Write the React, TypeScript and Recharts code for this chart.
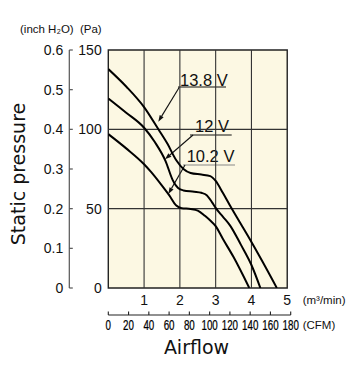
import React from 'react';
import { LineChart, Line, XAxis, YAxis, ReferenceArea, ReferenceLine, Customized } from 'recharts';

// ---- data ----
const m3Ticks = [1, 2, 3, 4, 5];
const cfmTicks = [0, 20, 40, 60, 80, 100, 120, 140, 160, 180];
const paTicks = [0, 50, 100, 150];
const inchTicks = [0, 0.1, 0.2, 0.3, 0.4, 0.5, 0.6];
const gridX = [1, 2, 3, 4];
const gridY = [50, 100];

const flow138 = [0, 0.5, 1.0, 1.4, 1.65, 1.9, 2.1, 2.3, 2.6, 2.85, 3.0, 3.2, 3.4, 3.7, 4.0, 4.3, 4.71];
const pres138 = [138, 127, 114, 100, 91, 80.5, 75, 72.5, 71.5, 70.5, 67.5, 60, 52, 40.5, 29, 17, 0];

const flow120 = [0, 0.5, 1.0, 1.3, 1.6, 1.8, 1.95, 2.1, 2.4, 2.6, 2.75, 2.9, 3.0, 3.2, 3.4, 3.7, 4.0, 4.25];
const pres120 = [119.5, 110.5, 101, 92, 80, 68, 63, 61.5, 60.7, 60, 58.5, 54, 50.5, 45, 39.5, 27.5, 14.5, 0];

const flow102 = [0, 0.5, 1.0, 1.2, 1.5, 1.7, 1.9, 2.05, 2.3, 2.5, 2.7, 2.85, 3.0, 3.2, 3.5, 3.94];
const pres102 = [97, 88, 78, 73, 64.5, 58.5, 52, 50.3, 49.8, 48.8, 45.5, 42.5, 39, 31, 19.5, 0];

const CFM_PER_M3 = 35.3147;
const CFM_MAX = 180;
const M3_MAX = CFM_MAX / CFM_PER_M3;

const toSeries = (xs: number[], ys: number[]) => xs.map((x, i) => ({ x, p: ys[i] }));
const s138 = toSeries(flow138, pres138);
const s120 = toSeries(flow120, pres120);
const s102 = toSeries(flow102, pres102);

// axis ids (the one nearest the plot sorts first)
const X_M3 = 'a_m3';
const X_CFM = 'b_cfm';
const Y_PA = 'a_pa';
const Y_INCH = 'b_inch';

// ---- layout ----
const W = 352;
const H = 362;
const MARGIN = { top: 42, right: 69.3, bottom: 25, left: 31.3 };
const BG = '#FCF8E3';
const FONT = 'Liberation Sans, Arial, sans-serif';

const InchTick = (props: any) => {
  const { x, y, payload } = props;
  return (
    <g>
      <line x1={x} y1={y} x2={x + 3.5} y2={y} stroke="#555" strokeWidth={1.2} />
      <text x={x - 6} y={y} dy="0.36em" textAnchor="end" fontSize={14} fill="#111" fontFamily={FONT}>
        {String(payload.value)}
      </text>
    </g>
  );
};

const CfmTick = (props: any) => {
  const { x, y, payload } = props;
  return (
    <g>
      <line x1={x} y1={y} x2={x} y2={y - 3.5} stroke="#222" strokeWidth={1.1} />
      <text
        transform={`translate(${x},${y + 15}) scale(0.7,1)`}
        textAnchor="middle"
        fontSize={14}
        fill="#000"
        stroke="#000"
        strokeWidth={0.25}
        fontFamily={FONT}
      >
        {String(payload.value)}
      </text>
    </g>
  );
};

const Arrow = ({ x1, y1, x2, y2, stroke = '#111' }: any) => {
  const dx = x2 - x1;
  const dy = y2 - y1;
  const len = Math.sqrt(dx * dx + dy * dy);
  const ux = dx / len;
  const uy = dy / len;
  const L = 6.5;
  const hw = 2.3;
  const bx = x2 - ux * L;
  const by = y2 - uy * L;
  const pts = `${x2},${y2} ${bx - uy * hw},${by + ux * hw} ${bx + uy * hw},${by - ux * hw}`;
  return (
    <g>
      <line x1={x1} y1={y1} x2={bx} y2={by} stroke={stroke} strokeWidth={1.1} />
      <polygon points={pts} fill={stroke} />
    </g>
  );
};

const VoltLabels = () => (
  <g fontFamily={FONT}>
    {/* 13.8 V */}
    <rect x={171} y={63} width={49} height={15} fill={BG} />
    <text x={172} y={77.5} fontSize={16.5} fill="#111">13.8 V</text>
    <line x1={170} y1={79} x2={218} y2={79} stroke="#111" strokeWidth={1.1} />
    <Arrow x1={171.3} y1={79.3} x2={150.3} y2={113.7} />
    {/* 12 V */}
    <rect x={183} y={111} width={41} height={15.5} fill={BG} />
    <text x={187} y={123.7} fontSize={16.5} fill="#111">12 V</text>
    <line x1={182} y1={127} x2={223.7} y2={127} stroke="#111" strokeWidth={1.1} />
    <Arrow x1={185} y1={127} x2={157} y2={151.3} />
    {/* 10.2 V */}
    <rect x={176} y={140.5} width={51} height={16} fill={BG} />
    <text x={178.7} y={153.7} fontSize={16.5} fill="#111">10.2 V</text>
    <line x1={175} y1={157} x2={227} y2={157} stroke="#888" strokeWidth={1.1} />
    <Arrow x1={177} y1={157} x2={160.3} y2={186} />
  </g>
);

const Titles = () => (
  <g fontFamily={FONT}>
    <text x={12} y={25} fontSize={11.5} fill="#111">(inch H₂O)</text>
    <text x={93.7} y={25} fontSize={11.5} fill="#111" textAnchor="end">(Pa)</text>
    <text
      x={17}
      y={166}
      transform="rotate(-90 17 166)"
      textAnchor="middle"
      fontSize={19}
      fill="#111"
      fontFamily="DejaVu Sans, sans-serif"
    >
      Static pressure
    </text>
    <text x={294.7} y={296} fontSize={11.5} fill="#111">(m³/min)</text>
    <text x={294.7} y={321} fontSize={11.5} fill="#111">(CFM)</text>
    <text x={188.5} y={346} textAnchor="middle" fontSize={19} fill="#111" fontFamily="DejaVu Sans, sans-serif">
      Airflow
    </text>
  </g>
);

export default function App() {
  return (
    <LineChart width={W} height={H} margin={MARGIN} style={{ fontFamily: FONT }}>
      <XAxis
        xAxisId={X_M3}
        type="number"
        dataKey="x"
        domain={[0, M3_MAX]}
        allowDataOverflow
        ticks={m3Ticks}
        interval={0}
        height={27}
        axisLine={false}
        tickLine={false}
        tickSize={0}
        tickMargin={7}
        tick={{ fontSize: 14, fill: '#111' }}
      />
      <XAxis
        xAxisId={X_CFM}
        type="number"
        dataKey="cfm"
        domain={[0, CFM_MAX]}
        allowDataOverflow
        ticks={cfmTicks}
        interval={0}
        height={30}
        axisLine={{ stroke: '#222', strokeWidth: 1.2 }}
        tickLine={false}
        tickSize={0}
        tickMargin={0}
        tick={<CfmTick />}
      />
      <YAxis
        yAxisId={Y_PA}
        type="number"
        domain={[0, 150]}
        allowDataOverflow
        ticks={paTicks}
        interval={0}
        width={39}
        axisLine={false}
        tickLine={false}
        tickSize={0}
        tickMargin={6.6}
        tick={{ fontSize: 14, fill: '#111' }}
      />
      <YAxis
        yAxisId={Y_INCH}
        type="number"
        domain={[0, 0.6]}
        allowDataOverflow
        ticks={inchTicks}
        interval={0}
        width={30}
        axisLine={{ stroke: '#555', strokeWidth: 1.2 }}
        tickLine={false}
        tickSize={0}
        tickMargin={0}
        tick={<InchTick />}
      />
      <ReferenceArea xAxisId={X_M3} yAxisId={Y_PA} x1={0} x2={5} y1={0} y2={150} fill={BG} fillOpacity={1} stroke="none" />
      {gridX.map((gx) => (
        <ReferenceLine
          key={`gx${gx}`}
          xAxisId={X_M3}
          yAxisId={Y_PA}
          segment={[{ x: gx, y: 0 }, { x: gx, y: 150 }]}
          stroke="#333"
          strokeWidth={1.1}
        />
      ))}
      {gridY.map((gy) => (
        <ReferenceLine
          key={`gy${gy}`}
          xAxisId={X_M3}
          yAxisId={Y_PA}
          segment={[{ x: 0, y: gy }, { x: 5, y: gy }]}
          stroke="#333"
          strokeWidth={1.1}
        />
      ))}
      <ReferenceArea
        xAxisId={X_M3}
        yAxisId={Y_PA}
        x1={0}
        x2={5}
        y1={0}
        y2={150}
        fill="none"
        stroke="#222"
        strokeWidth={1.4}
        label={{ content: () => <VoltLabels /> }}
      />
      <Line data={s138} xAxisId={X_M3} yAxisId={Y_PA} dataKey="p" type="monotone" stroke="#000" strokeWidth={2} dot={false} isAnimationActive={false} />
      <Line data={s120} xAxisId={X_M3} yAxisId={Y_PA} dataKey="p" type="monotone" stroke="#000" strokeWidth={2} dot={false} isAnimationActive={false} />
      <Line data={s102} xAxisId={X_M3} yAxisId={Y_PA} dataKey="p" type="monotone" stroke="#000" strokeWidth={2} dot={false} isAnimationActive={false} />
      <Customized component={<Titles />} />
    </LineChart>
  );
}
